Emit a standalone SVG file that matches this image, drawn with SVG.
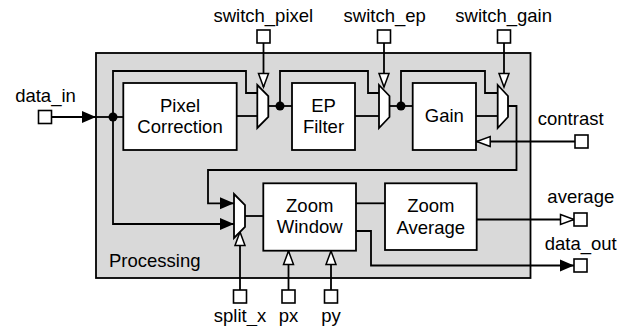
<svg xmlns="http://www.w3.org/2000/svg" width="629" height="326" viewBox="0 0 629 326">
<defs>
<style>
text{font-family:"Liberation Sans",Arial,sans-serif;font-size:18.5px;fill:#000}
.m{text-anchor:middle}
.box{fill:#fff;stroke:#000;stroke-width:1.8}
.port{fill:#fff;stroke:#000;stroke-width:1.6}
.w{fill:none;stroke:#000;stroke-width:1.8}
.mux{fill:#fff;stroke:#000;stroke-width:1.8;stroke-linejoin:miter}
</style>
<marker id="af" markerUnits="userSpaceOnUse" markerWidth="16" markerHeight="14" refX="14" refY="6" orient="auto" overflow="visible">
<path d="M0,0 L14,6 L0,12 z" fill="#000"/>
</marker>
<marker id="ao" markerUnits="userSpaceOnUse" markerWidth="16" markerHeight="14" refX="14" refY="5" orient="auto" overflow="visible">
<path d="M0.5,0 L14,5 L0.5,10 z" fill="#fff" stroke="#000" stroke-width="1.5"/>
</marker>
</defs>
<g id="processing">
<rect x="96" y="53" width="434.5" height="225" fill="#d9d9d9" stroke="#000" stroke-width="1.8"/>
<text x="109" y="266.5">Processing</text>
</g>
<g id="connectors">
<path class="w" d="M51.5,117 H96" marker-end="url(#af)"/>
<path class="w" d="M96,117 H123.3"/>
<path class="w" d="M113,117 V71 H246 V93 H257.3"/>
<path class="w" d="M113,117 V224 H234" marker-end="url(#af)"/>
<path class="w" d="M236.7,116 H257.3"/>
<path class="w" d="M268.3,106 H292"/>
<path class="w" d="M280,106 V71 H368 V93 H379"/>
<path class="w" d="M355,116 H379"/>
<path class="w" d="M389.5,106 H412.7"/>
<path class="w" d="M401,106 V71 H485 V93 H497.7"/>
<path class="w" d="M476,116 H497.7"/>
<path class="w" d="M508,106 H516.5 V170 H208 V203.3 H234" marker-end="url(#af)"/>
<path class="w" d="M575,141.5 H476.7" marker-end="url(#ao)"/>
<path class="w" d="M263.5,43 V87" marker-end="url(#ao)"/>
<path class="w" d="M384,43 V87" marker-end="url(#ao)"/>
<path class="w" d="M504,43 V87" marker-end="url(#ao)"/>
<path class="w" d="M245,216 H263.3"/>
<path class="w" d="M240,290 V232" marker-end="url(#ao)"/>
<path class="w" d="M288.5,290 V251" marker-end="url(#ao)"/>
<path class="w" d="M331,290 V251" marker-end="url(#ao)"/>
<path class="w" d="M356,203.3 H385"/>
<path class="w" d="M476.7,219.5 H574" marker-end="url(#ao)"/>
<path class="w" d="M356,231 H371 V265.5 H574" marker-end="url(#af)"/>
<circle cx="113" cy="117" r="4.5" fill="#000"/>
<circle cx="280" cy="106" r="4.5" fill="#000"/>
<circle cx="401" cy="106" r="4.5" fill="#000"/>
</g>
<g id="mux_pixel"><path class="mux" d="M257.3,85 L268.3,96 V117 L257.3,128 z"/></g>
<g id="mux_ep"><path class="mux" d="M379,85 L389.5,96 V117 L379,128 z"/></g>
<g id="mux_gain"><path class="mux" d="M497.7,85 L508,96 V117 L497.7,128 z"/></g>
<g id="mux_zoom"><path class="mux" d="M234,194 L245,205 V227 L234,238 z"/></g>
<g id="pixel_correction">
<rect class="box" x="123.3" y="83" width="113.4" height="67"/>
<text class="m" x="180" y="111.7">Pixel</text>
<text class="m" x="180" y="133.3">Correction</text>
</g>
<g id="ep_filter">
<rect class="box" x="292" y="83" width="63" height="67"/>
<text class="m" x="323.5" y="111.7">EP</text>
<text class="m" x="323.5" y="133.3">Filter</text>
</g>
<g id="gain">
<rect class="box" x="412.7" y="83" width="63.3" height="67"/>
<text class="m" x="444.3" y="121.7">Gain</text>
</g>
<g id="zoom_window">
<rect class="box" x="263.3" y="183.3" width="92.7" height="67.4"/>
<text class="m" x="309.7" y="211.7">Zoom</text>
<text class="m" x="309.7" y="233.3">Window</text>
</g>
<g id="zoom_average">
<rect class="box" x="385" y="183.3" width="91.7" height="66.7"/>
<text class="m" x="430.8" y="212">Zoom</text>
<text class="m" x="430.8" y="233.5">Average</text>
</g>
<g id="port_data_in"><rect class="port" x="38.5" y="110.5" width="13" height="13"/><text class="m" x="45.5" y="101.5">data_in</text></g>
<g id="port_switch_pixel"><rect class="port" x="257" y="30" width="13" height="13"/><text class="m" x="263.3" y="22">switch_pixel</text></g>
<g id="port_switch_ep"><rect class="port" x="377.5" y="30" width="13" height="13"/><text class="m" x="384.7" y="22">switch_ep</text></g>
<g id="port_switch_gain"><rect class="port" x="497.5" y="30" width="13" height="13"/><text class="m" x="503.7" y="22">switch_gain</text></g>
<g id="port_contrast"><rect class="port" x="575" y="135" width="13" height="13"/><text class="m" x="570.7" y="125">contrast</text></g>
<g id="port_average"><rect class="port" x="574" y="213" width="13" height="13"/><text class="m" x="580.8" y="203">average</text></g>
<g id="port_data_out"><rect class="port" x="574" y="259" width="13" height="13"/><text class="m" x="580.7" y="250">data_out</text></g>
<g id="port_split_x"><rect class="port" x="233.5" y="290" width="13" height="13"/><text class="m" x="240" y="321.5">split_x</text></g>
<g id="port_px"><rect class="port" x="282" y="290" width="13" height="13"/><text class="m" x="288.5" y="321.5">px</text></g>
<g id="port_py"><rect class="port" x="324.5" y="290" width="13" height="13"/><text class="m" x="331" y="321.5">py</text></g>
</svg>
